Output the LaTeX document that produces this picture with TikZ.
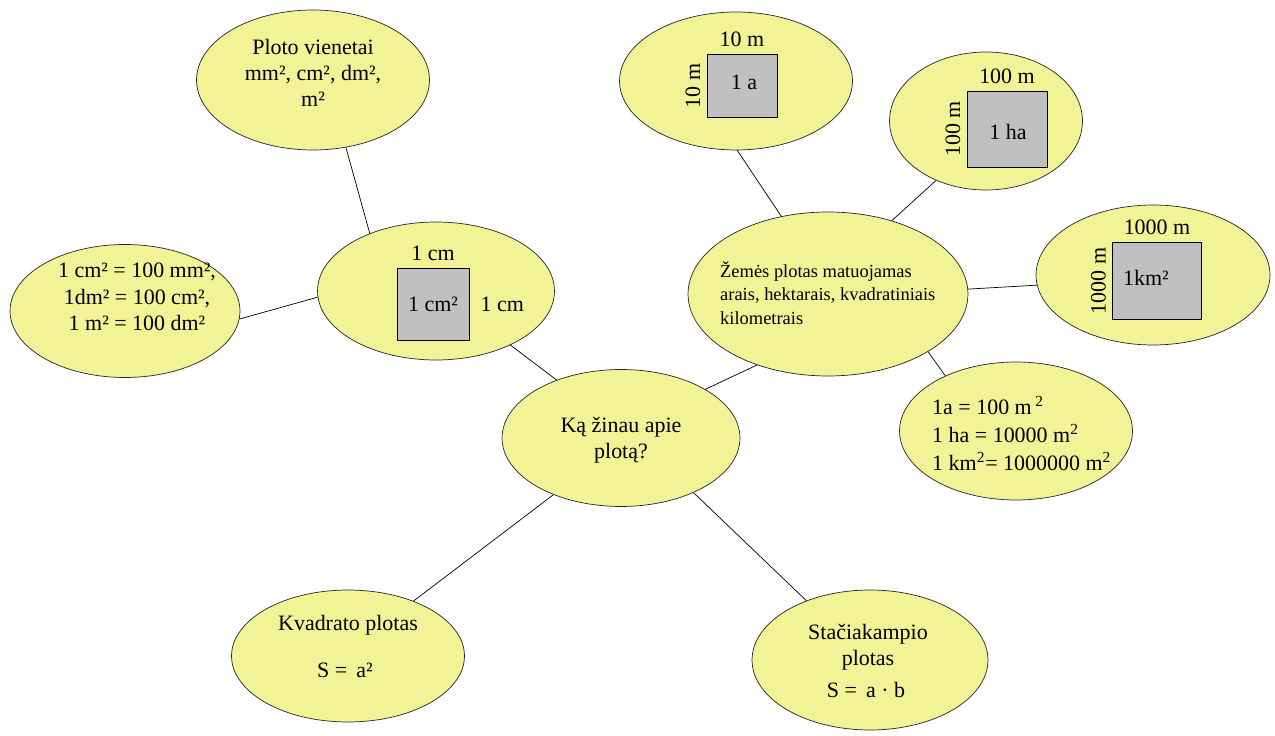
\documentclass[tikz,border=0pt]{standalone}
\usepackage{fontspec}
\setmainfont{Liberation Serif}
\usetikzlibrary{shapes.geometric,positioning}
\definecolor{bubble}{RGB}{242,242,150}
\definecolor{tile}{RGB}{192,192,192}

\begin{document}
\begin{tikzpicture}[
      x=0.02cm,y=-0.02cm,
      idea/.style={ellipse,draw=black!85,fill=bubble,inner sep=0pt},
      txt/.style={align=center,font=\fontsize{12.5}{15}\selectfont},
      small/.style={align=left,font=\fontsize{10.5}{13.5}\selectfont},
      sq/.style={draw=black,fill=tile,inner sep=0pt,font=\fontsize{12.5}{15}\selectfont},
      link/.style={draw=black,thin}
    ]
    \useasboundingbox (0,0) rectangle (1275,736);

    % bubbles
    \node[idea,minimum width=4.66cm,minimum height=2.8cm]  (ploto) at (313,80)  {};
    \node[idea,minimum width=4.6cm,minimum height=2.66cm]  (conv)  at (125,311) {};
    \node[idea,minimum width=4.74cm,minimum height=2.76cm] (cmell) at (436,291) {};
    \node[idea,minimum width=4.76cm,minimum height=2.74cm] (kas)   at (621,438) {};
    \node[idea,minimum width=4.66cm,minimum height=2.76cm] (are)   at (736,81)  {};
    \node[idea,minimum width=3.86cm,minimum height=2.76cm] (ha)    at (986,121) {};
    \node[idea,minimum width=5.6cm,minimum height=3.28cm]  (zemes) at (828,294) {};
    \node[idea,minimum width=4.68cm,minimum height=2.8cm]  (km)    at (1153,275) {};
    \node[idea,minimum width=4.66cm,minimum height=2.76cm] (eq)    at (1016,431) {};
    \node[idea,minimum width=4.66cm,minimum height=2.64cm] (kvad)  at (348,656) {};
    \node[idea,minimum width=4.72cm,minimum height=2.8cm]  (stac)  at (870,660) {};

    % texts
    \node[txt] (plototxt) at (313,73) {Ploto vienetai\\mm², cm², dm²,\\m²};
    \node[txt] (convtxt) at (137,297) {1 cm² = 100 mm²,\\1dm² = 100 cm²,\\1 m² = 100 dm²};
    \node[txt] (kastxt) at (621,440) {Ką žinau apie\\plotą?};
    \node[txt] (kvadtxt) at (348,625) {Kvadrato plotas};
    \node[txt] (kvadf) at (345,670) {S = \,a²};
    \node[txt] (stactxt) at (868,647) {Stačiakampio\\plotas};
    \node[txt] (stacf) at (866,690) {S = \,a · b};
    \node[small,anchor=north west] (zemestxt) at (714,255)
      {Žemės plotas matuojamas\\arais, hektarais, kvadratiniais\\kilometrais};
    \node[txt,align=left,anchor=north west] (eqtxt) at (926,390)
      {1a = 100 m\,\textsuperscript{2}\\[1pt]1 ha = 10000 m\textsuperscript{2}\\[1pt]1 km\textsuperscript{2}= 1000000 m\textsuperscript{2}};

    % squares
    \node[sq,minimum width=1.44cm,minimum height=1.44cm] (cmsq) at (433,304) {1 cm²};
    \node[txt,above=.02cm of cmsq] (cmtop) {1 cm};
    \node[txt,right=.1cm of cmsq]  (cmright) {1 cm};

    \node[sq,minimum width=1.4cm,minimum height=1.26cm] (aresq) at (742,86) {};
    \node[txt] (arein) at (744,82) {1 a};
    \node[txt,above=.02cm of aresq] (aretop) {10 m};
    \node[txt,rotate=90,anchor=south] (areside) at (aresq.west) {10 m};

    \node[sq,minimum width=1.6cm,minimum height=1.52cm] (hasq) at (1007,129) {};
    \node[txt] (hain) at (1008,132) {1 ha};
    \node[txt,above=.02cm of hasq] (hatop) {100 m};
    \node[txt,rotate=90,anchor=south] (haside) at (hasq.west) {100 m};

    \node[sq,minimum width=1.78cm,minimum height=1.54cm] (kmsq) at (1157,281) {};
    \node[txt] (kmin) at (1146,278) {1km²};
    \node[txt,above=.02cm of kmsq] (kmtop) {1000 m};
    \node[txt,rotate=90,anchor=south] (kmside) at (kmsq.west) {1000 m};

    % links
    \path[link] (ploto.-64) -- (cmell.139);
    \path[link] (conv.-4) -- (cmell.183);
    \path[link] (cmell.-36) -- (kas.138);
    \path[link] (kas.30) -- (zemes.-135);
    \path[link] (are.-89) -- (zemes.121);
    \path[link] (ha.-130) -- (zemes.49);
    \path[link] (zemes.2) -- (km.185);
    \path[link] (zemes.-30) -- (eq.142);
    \path[link] (kas.-140) -- (kvad.40);
    \path[link] (kas.-37) -- (stac.137);
  \end{tikzpicture}
\end{document}
